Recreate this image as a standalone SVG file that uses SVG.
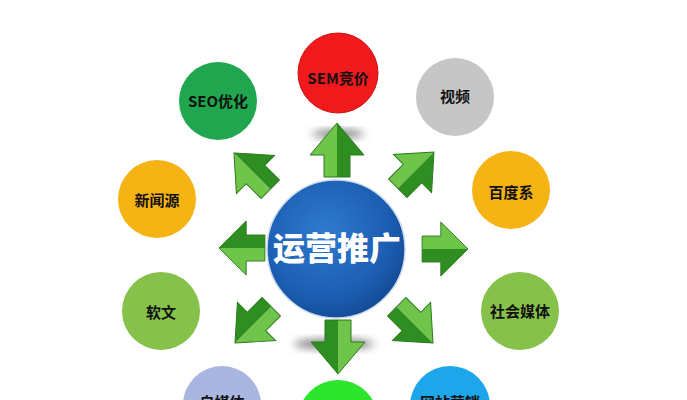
<svg xmlns="http://www.w3.org/2000/svg" xmlns:xlink="http://www.w3.org/1999/xlink" width="687" height="400" viewBox="0 0 687 400">
<defs>
<style>
.lbl{font-family:"Noto Sans CJK SC","Liberation Sans",sans-serif;font-weight:700;font-size:15px;fill:#111;text-anchor:middle}
.ctr{font-family:"Noto Sans CJK SC","Liberation Sans",sans-serif;font-weight:900;font-size:32px;fill:#fff;text-anchor:middle}
.aL{fill:#6fc54a}
.aR{fill:#2f8e22}
.aE{fill:none;stroke:#2a7a1c;stroke-width:1}
</style>
<radialGradient id="gC" cx="0.42" cy="0.38" r="0.65">
<stop offset="0" stop-color="#2f7bd0"/>
<stop offset="0.75" stop-color="#1b5cb0"/>
<stop offset="1" stop-color="#144a95"/>
</radialGradient>
<filter id="blur" x="-50%" y="-50%" width="200%" height="200%"><feGaussianBlur stdDeviation="4"/></filter>
<g id="arr">
<polygon class="aL" points="0,0 -27,32 -13,32 -13,54 0,54"/>
<polygon class="aR" points="0,0 27,32 13,32 13,54 0,54"/>
<polygon class="aE" points="0,0 27,32 13,32 13,54 -13,54 -13,32 -27,32"/>
</g>
</defs>
<rect width="687" height="400" fill="#ffffff"/>
<g id="connectors">
<ellipse cx="338" cy="134" rx="26" ry="4" fill="#777" filter="url(#blur)"/>
<ellipse cx="334" cy="344" rx="40" ry="5" fill="#777" filter="url(#blur)"/>
<use xlink:href="#arr" href="#arr" transform="translate(337,123)"/>
<use xlink:href="#arr" href="#arr" transform="translate(338,374) rotate(180)"/>
<use xlink:href="#arr" href="#arr" transform="translate(219,248) rotate(-90) scale(1,0.85)"/>
<use xlink:href="#arr" href="#arr" transform="translate(468,249) rotate(90) scale(1,0.85)"/>
<use xlink:href="#arr" href="#arr" transform="translate(234,153) rotate(-45) scale(1,0.95)"/>
<use xlink:href="#arr" href="#arr" transform="translate(434,152) rotate(45) scale(1,0.95)"/>
<use xlink:href="#arr" href="#arr" transform="translate(235,343) rotate(-135) scale(1,0.95)"/>
<use xlink:href="#arr" href="#arr" transform="translate(433,343) rotate(135) scale(1,0.95)"/>
</g>
<g id="center">
<circle cx="336" cy="249" r="69" fill="url(#gC)" stroke="#c9d9ee" stroke-width="1.5"/>
<text class="ctr" x="337" y="260">运营推广</text>
</g>
<g id="seo">
<circle cx="218" cy="101" r="39" fill="#1fa64e"/>
<text class="lbl" x="218" y="107">SEO优化</text>
</g>
<g id="sem">
<circle cx="338" cy="73" r="40" fill="#f0191c" stroke="#d01010" stroke-width="1"/>
<text class="lbl" x="338" y="84">SEM竞价</text>
</g>
<g id="video">
<circle cx="455" cy="97" r="39" fill="#c6c6c6"/>
<text class="lbl" x="455" y="102">视频</text>
</g>
<g id="baidu">
<circle cx="511" cy="190" r="39" fill="#f6b414"/>
<text class="lbl" x="511" y="198">百度系</text>
</g>
<g id="social">
<circle cx="520" cy="311" r="39" fill="#86c14a"/>
<text class="lbl" x="520" y="317">社会媒体</text>
</g>
<g id="news">
<circle cx="157" cy="199" r="39" fill="#f6b414"/>
<text class="lbl" x="157" y="206">新闻源</text>
</g>
<g id="softarticle">
<circle cx="161" cy="311" r="39" fill="#86c14a"/>
<text class="lbl" x="161" y="318">软文</text>
</g>
<g id="selfmedia">
<circle cx="222" cy="405" r="39" fill="#a9b6df"/>
<text class="lbl" x="222" y="408">自媒体</text>
</g>
<g id="bottom">
<circle cx="338" cy="420" r="40" fill="#2ee52e"/>
</g>
<g id="website">
<circle cx="450" cy="406" r="40" fill="#1ea6ea"/>
<text class="lbl" x="450" y="408">网站营销</text>
</g>
</svg>
